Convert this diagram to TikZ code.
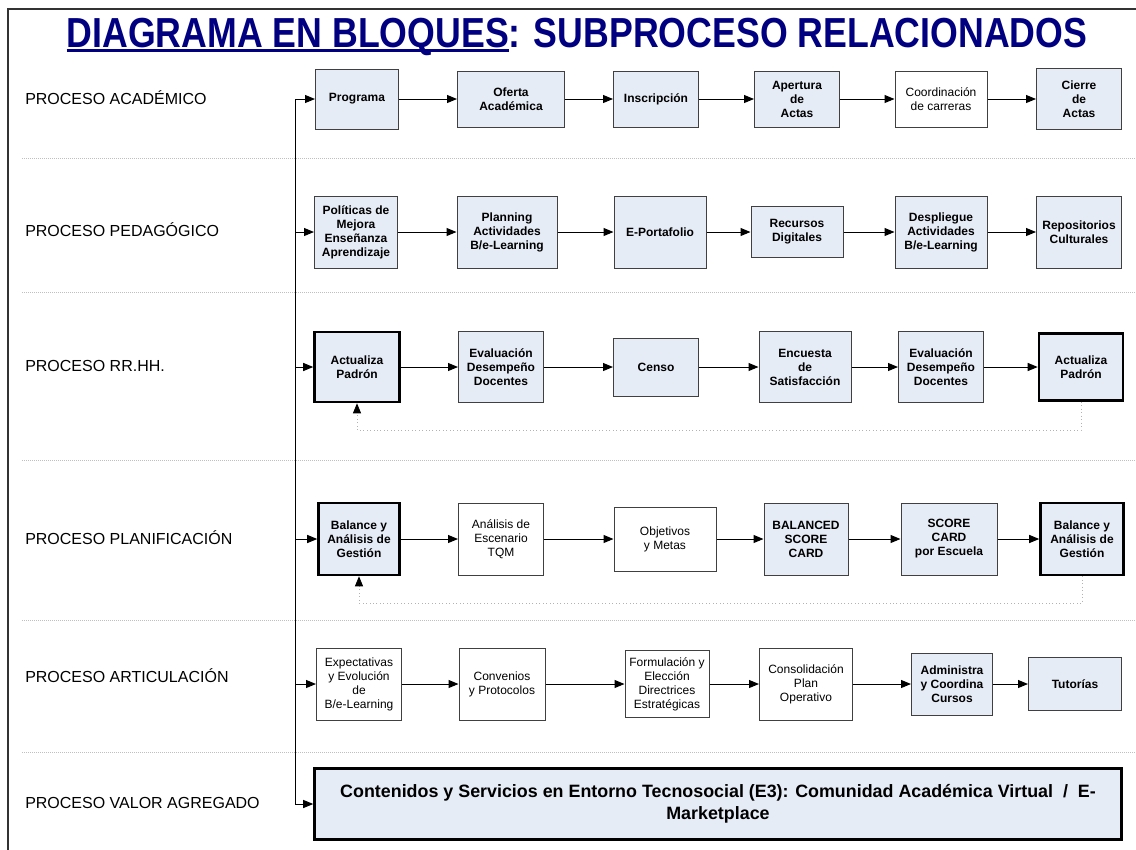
\documentclass[tikz,border=0pt]{standalone}
\usepackage{fontspec}
\setmainfont{Liberation Sans}
\usetikzlibrary{arrows.meta}

\definecolor{boxblue}{RGB}{230,236,246}
\definecolor{titleblue}{RGB}{0,0,128}

% underline close to the baseline
\newcommand\titleline[1]{\setbox0\hbox{#1}\rlap{\rule[-3.2pt]{\wd0}{1.8pt}}\box0}

\begin{document}
\begin{tikzpicture}[x=0.75pt, y=-0.75pt, >={Triangle[length=7.5pt,width=6pt]},
		sz/.style 2 args={minimum width=#1*0.75pt, minimum height=#2*0.75pt},
		blk/.style={draw=black!75, line width=0.75pt, fill=boxblue, align=center, inner sep=1pt, font=\fontsize{9}{10.5}\selectfont\bfseries},
		wbox/.style={blk, fill=white, font=\fontsize{9}{10.5}\selectfont},
		kbox/.style={blk, draw=black, line width=1.9pt},
		lane/.style={anchor=west, inner sep=0pt, font=\fontsize{12}{14}\selectfont},
		lanesep/.style={gray!50, densely dotted, line width=0.5pt},
		flow/.style={->, line width=0.75pt},
		loopback/.style={-{Triangle[length=7.5pt,width=6pt,color=black]}, gray!60, dotted, line width=0.6pt}]
	
	\useasboundingbox (0,0) rectangle (1136,850);
	
	% Frame
	\draw[line width=1.2pt, black!80] (8,850) -- (8,9) -- (1136,9);
	
	% Title
	\node[font=\fontsize{31.5}{36}\selectfont\bfseries, text=titleblue] (title) at (577,37)
		{\scalebox{0.85}[1]{\titleline{DIAGRAMA EN BLOQUES}: SUBPROCESO RELACIONADOS}};
	
	% Lanes
	\node[lane] (lacad) at (25,98) {PROCESO ACADÉMICO};
	\node[lane] (lpeda) at (25,230) {PROCESO PEDAGÓGICO};
	\node[lane] (lrrhh) at (25,366) {PROCESO RR.HH.};
	\node[lane] (lplan) at (25,538) {PROCESO PLANIFICACIÓN};
	\node[lane] (larti) at (25,676) {PROCESO ARTICULACIÓN};
	\node[lane] (lvalor) at (25,803) {PROCESO VALOR AGREGADO};
	
	\foreach \y in {158,292,460,620,752}
		\draw[lanesep] (22,\y) -- (1136,\y);
	
	% Academico
	\node[blk, sz={83}{60}] (prog) at (357,99) {Programa};
	\node[blk, sz={107}{56}] (ofer) at (511,99) {Oferta\\Académica};
	\node[blk, sz={85}{56}] (insc) at (656,99) {Inscripción};
	\node[blk, sz={85}{56}] (aper) at (797,99) {Apertura\\de\\Actas};
	\node[wbox, sz={92}{56}] (coor) at (941,99) {Coordinación\\de carreras};
	\node[blk, sz={85}{61}] (cier) at (1079,99) {Cierre\\de\\Actas};
	
	% Pedagogico
	\node[blk, sz={83}{72}] (poli) at (356,232) {Políticas de\\Mejora\\Enseñanza\\Aprendizaje};
	\node[blk, sz={100}{72}] (plan) at (507,232) {Planning\\Actividades\\B/e-Learning};
	\node[blk, sz={92}{72}] (epor) at (660,232) {E-Portafolio};
	\node[blk, sz={92}{51}] (recu) at (797,232) {Recursos\\Digitales};
	\node[blk, sz={92}{72}] (desp) at (941,232) {Despliegue\\Actividades\\B/e-Learning};
	\node[blk, sz={85}{72}] (repo) at (1079,232) {Repositorios\\Culturales};
	
	% RR.HH.
	\node[kbox, sz={85}{70}] (act1) at (357,367) {Actualiza\\Padrón};
	\node[blk, sz={85}{71}] (eva1) at (501,367) {Evaluación\\Desempeño\\Docentes};
	\node[blk, sz={85}{58}] (cens) at (656,367) {Censo};
	\node[blk, sz={92}{71}] (encu) at (805,367) {Encuesta\\de\\Satisfacción};
	\node[blk, sz={85}{71}] (eva2) at (941,367) {Evaluación\\Desempeño\\Docentes};
	\node[kbox, sz={84}{67}] (act2) at (1081,367) {Actualiza\\Padrón};
	
	% Planificacion
	\node[kbox, sz={81}{72}] (bal1) at (359,539) {Balance y\\Análisis de\\Gestión};
	\node[wbox, sz={85}{72}] (anal) at (501,539) {Análisis de\\Escenario\\TQM};
	\node[wbox, sz={102}{64}] (obje) at (665,539) {Objetivos\\y Metas};
	\node[blk, sz={84}{72}] (bsc) at (806,539) {BALANCED\\SCORE\\CARD};
	\node[blk, sz={96}{72}] (scor) at (949,539) {SCORE\\CARD\\por Escuela};
	\node[kbox, sz={83}{72}] (bal2) at (1082,539) {Balance y\\Análisis de\\Gestión};
	
	% Articulacion
	\node[wbox, sz={85}{72}] (expe) at (359,684) {Expectativas\\y Evolución\\de\\B/e-Learning};
	\node[wbox, sz={86}{72}] (conv) at (502,684) {Convenios\\y Protocolos};
	\node[wbox, sz={84}{67}] (form) at (667,684) {Formulación y\\Elección\\Directrices\\Estratégicas};
	\node[wbox, sz={93}{72}] (cons) at (806,684) {Consolidación\\Plan\\Operativo};
	\node[blk, sz={81}{62}] (admi) at (952,684) {Administra\\y Coordina\\Cursos};
	\node[blk, sz={93}{53}] (tuto) at (1075,684) {Tutorías};
	
	% Valor agregado
	\node[kbox, sz={807}{71}, font=\fontsize{13.4}{16.5}\selectfont\bfseries] (cont) at (718,804)
		{Contenidos y Servicios en Entorno Tecnosocial (E3): Comunidad Académica Virtual~~/~~E-\\Marketplace};
	
	% Trunk
	\coordinate (t1) at (295,99);
	\coordinate (t2) at (295,232);
	\coordinate (t3) at (295,367);
	\coordinate (t4) at (295,539);
	\coordinate (t5) at (295,684);
	\coordinate (t6) at (295,804);
	\draw[line width=0.75pt] (t1) -- (t6);
	\draw[flow] (t1) -- (prog);
	\draw[flow] (t2) -- (poli);
	\draw[flow] (t3) -- (act1);
	\draw[flow] (t4) -- (bal1);
	\draw[flow] (t5) -- (expe);
	\draw[flow] (t6) -- (cont);
	
	% Flows
	\draw[flow] (prog) -- (ofer);
	\draw[flow] (ofer) -- (insc);
	\draw[flow] (insc) -- (aper);
	\draw[flow] (aper) -- (coor);
	\draw[flow] (coor) -- (cier);
	
	\draw[flow] (poli) -- (plan);
	\draw[flow] (plan) -- (epor);
	\draw[flow] (epor) -- (recu);
	\draw[flow] (recu) -- (desp);
	\draw[flow] (desp) -- (repo);
	
	\draw[flow] (act1) -- (eva1);
	\draw[flow] (eva1) -- (cens);
	\draw[flow] (cens) -- (encu);
	\draw[flow] (encu) -- (eva2);
	\draw[flow] (eva2) -- (act2);
	
	\draw[flow] (bal1) -- (anal);
	\draw[flow] (anal) -- (obje);
	\draw[flow] (obje) -- (bsc);
	\draw[flow] (bsc) -- (scor);
	\draw[flow] (scor) -- (bal2);
	
	\draw[flow] (expe) -- (conv);
	\draw[flow] (conv) -- (form);
	\draw[flow] (form) -- (cons);
	\draw[flow] (cons) -- (admi);
	\draw[flow] (admi) -- (tuto);
	
	% Feedback
	\draw[loopback] (act2.south) -- (act2.south |- 0,430) -| (act1.south);
	\draw[loopback] (bal2.south) -- (bal2.south |- 0,603) -| (bal1.south);
	
\end{tikzpicture}
\end{document}
